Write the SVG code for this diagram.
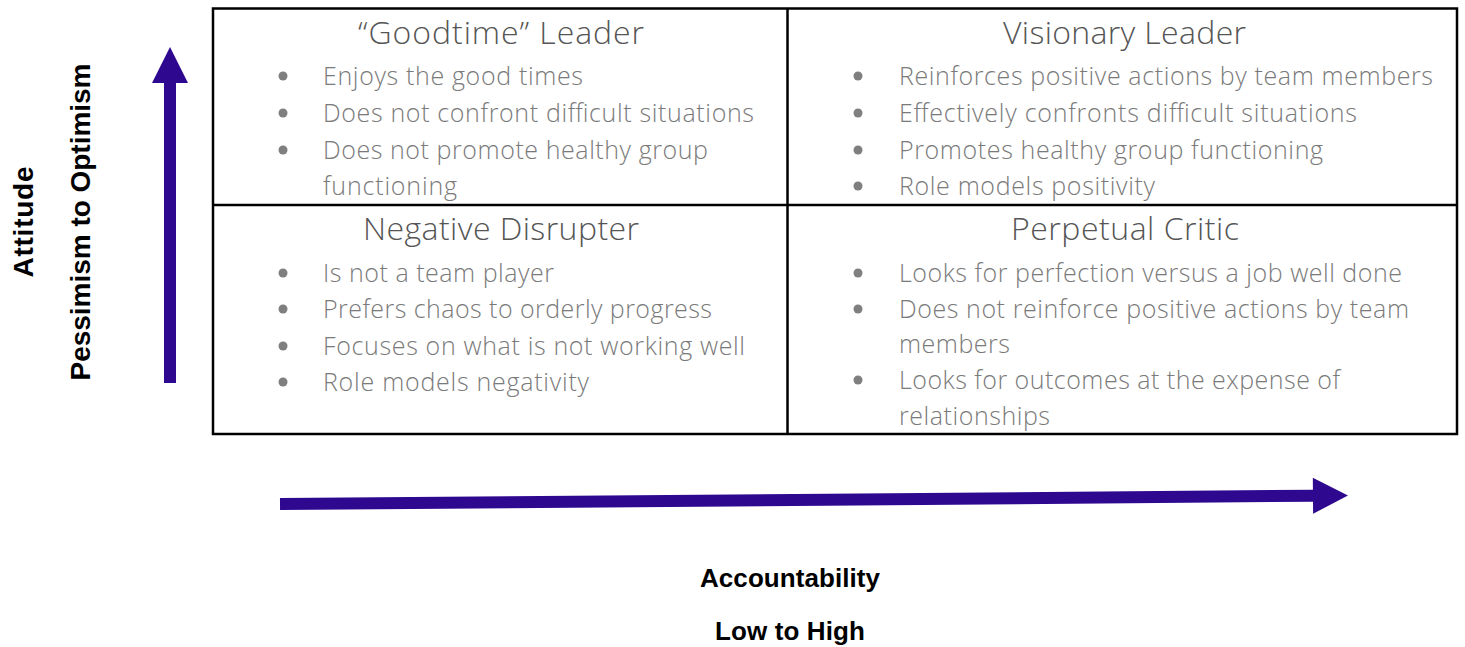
<svg xmlns="http://www.w3.org/2000/svg" width="1465" height="647" viewBox="0 0 1465 647">
  <style>
    .title { font-family: "Open Sans", "Liberation Sans", sans-serif; font-weight: 300; font-size: 32px; fill: #555555; text-anchor: middle; }
    .item { font-family: "Open Sans", "Liberation Sans", sans-serif; font-weight: 300; font-size: 25px; fill: #7a7a7a; }
    .dot { fill: #7f7f7f; }
    .axis { font-family: "Liberation Sans", "Open Sans", sans-serif; font-weight: bold; fill: #000; text-anchor: middle; }
    .grid { fill: none; stroke: #000; stroke-width: 2.5; }
    .arrow { fill: #2f0890; }
  </style>
  <rect width="1465" height="647" fill="#fff"/>

  <!-- 2x2 grid -->
  <g id="grid">
    <rect class="grid" x="213" y="8.5" width="1244" height="425.5"/>
    <line class="grid" x1="787.5" y1="8.5" x2="787.5" y2="434"/>
    <line class="grid" x1="213" y1="205" x2="1457" y2="205"/>
  </g>

  <!-- top-left quadrant -->
  <g id="goodtime-leader">
    <text class="title" x="501" y="44" textLength="286">“Goodtime” Leader</text>
    <circle class="dot" cx="283" cy="76" r="4.5"/>
    <circle class="dot" cx="283" cy="113" r="4.5"/>
    <circle class="dot" cx="283" cy="150" r="4.5"/>
    <text class="item" x="323" y="85" textLength="260">Enjoys the good times</text>
    <text class="item" x="323" y="122" textLength="431">Does not confront difficult situations</text>
    <text class="item" x="323" y="159" textLength="385">Does not promote healthy group</text>
    <text class="item" x="323" y="195" textLength="134">functioning</text>
  </g>

  <!-- top-right quadrant -->
  <g id="visionary-leader">
    <text class="title" x="1124.5" y="44" textLength="243">Visionary Leader</text>
    <circle class="dot" cx="858" cy="76" r="4.5"/>
    <circle class="dot" cx="858" cy="113" r="4.5"/>
    <circle class="dot" cx="858" cy="150" r="4.5"/>
    <circle class="dot" cx="858" cy="186" r="4.5"/>
    <text class="item" x="899" y="85" textLength="534">Reinforces positive actions by team members</text>
    <text class="item" x="899" y="122" textLength="458">Effectively confronts difficult situations</text>
    <text class="item" x="899" y="159" textLength="424">Promotes healthy group functioning</text>
    <text class="item" x="899" y="195" textLength="256">Role models positivity</text>
  </g>

  <!-- bottom-left quadrant -->
  <g id="negative-disrupter">
    <text class="title" x="501" y="240" textLength="276">Negative Disrupter</text>
    <circle class="dot" cx="283" cy="273" r="4.5"/>
    <circle class="dot" cx="283" cy="309" r="4.5"/>
    <circle class="dot" cx="283" cy="346" r="4.5"/>
    <circle class="dot" cx="283" cy="382" r="4.5"/>
    <text class="item" x="323" y="282" textLength="231">Is not a team player</text>
    <text class="item" x="323" y="318" textLength="389">Prefers chaos to orderly progress</text>
    <text class="item" x="323" y="355" textLength="422">Focuses on what is not working well</text>
    <text class="item" x="323" y="391" textLength="266">Role models negativity</text>
  </g>

  <!-- bottom-right quadrant -->
  <g id="perpetual-critic">
    <text class="title" x="1125" y="240" textLength="228">Perpetual Critic</text>
    <circle class="dot" cx="858" cy="273" r="4.5"/>
    <circle class="dot" cx="858" cy="309" r="4.5"/>
    <circle class="dot" cx="858" cy="380" r="4.5"/>
    <text class="item" x="899" y="282" textLength="503">Looks for perfection versus a job well done</text>
    <text class="item" x="899" y="318" textLength="510">Does not reinforce positive actions by team</text>
    <text class="item" x="899" y="353" textLength="111">members</text>
    <text class="item" x="899" y="389" textLength="441">Looks for outcomes at the expense of</text>
    <text class="item" x="899" y="425" textLength="151">relationships</text>
  </g>

  <!-- axis arrows -->
  <g id="axes">
    <polygon id="attitude-arrow" class="arrow" points="164,383 164,83 152,83 170,47 188,83 176,83 176,383"/>
    <polygon id="accountability-arrow" class="arrow" transform="rotate(-0.456 280 504)" points="280,498 1313,498 1313,486 1348,504 1313,522 1313,510 280,510"/>
  </g>

  <!-- axis labels -->
  <g id="attitude-label">
    <text class="axis" font-size="28" transform="translate(33 222) rotate(-90)" textLength="111">Attitude</text>
    <text class="axis" font-size="28" transform="translate(90 222) rotate(-90)" textLength="317">Pessimism to Optimism</text>
  </g>
  <g id="accountability-label">
    <text class="axis" font-size="26" x="790" y="587" textLength="180">Accountability</text>
    <text class="axis" font-size="26" x="790" y="640" textLength="150">Low to High</text>
  </g>
</svg>
